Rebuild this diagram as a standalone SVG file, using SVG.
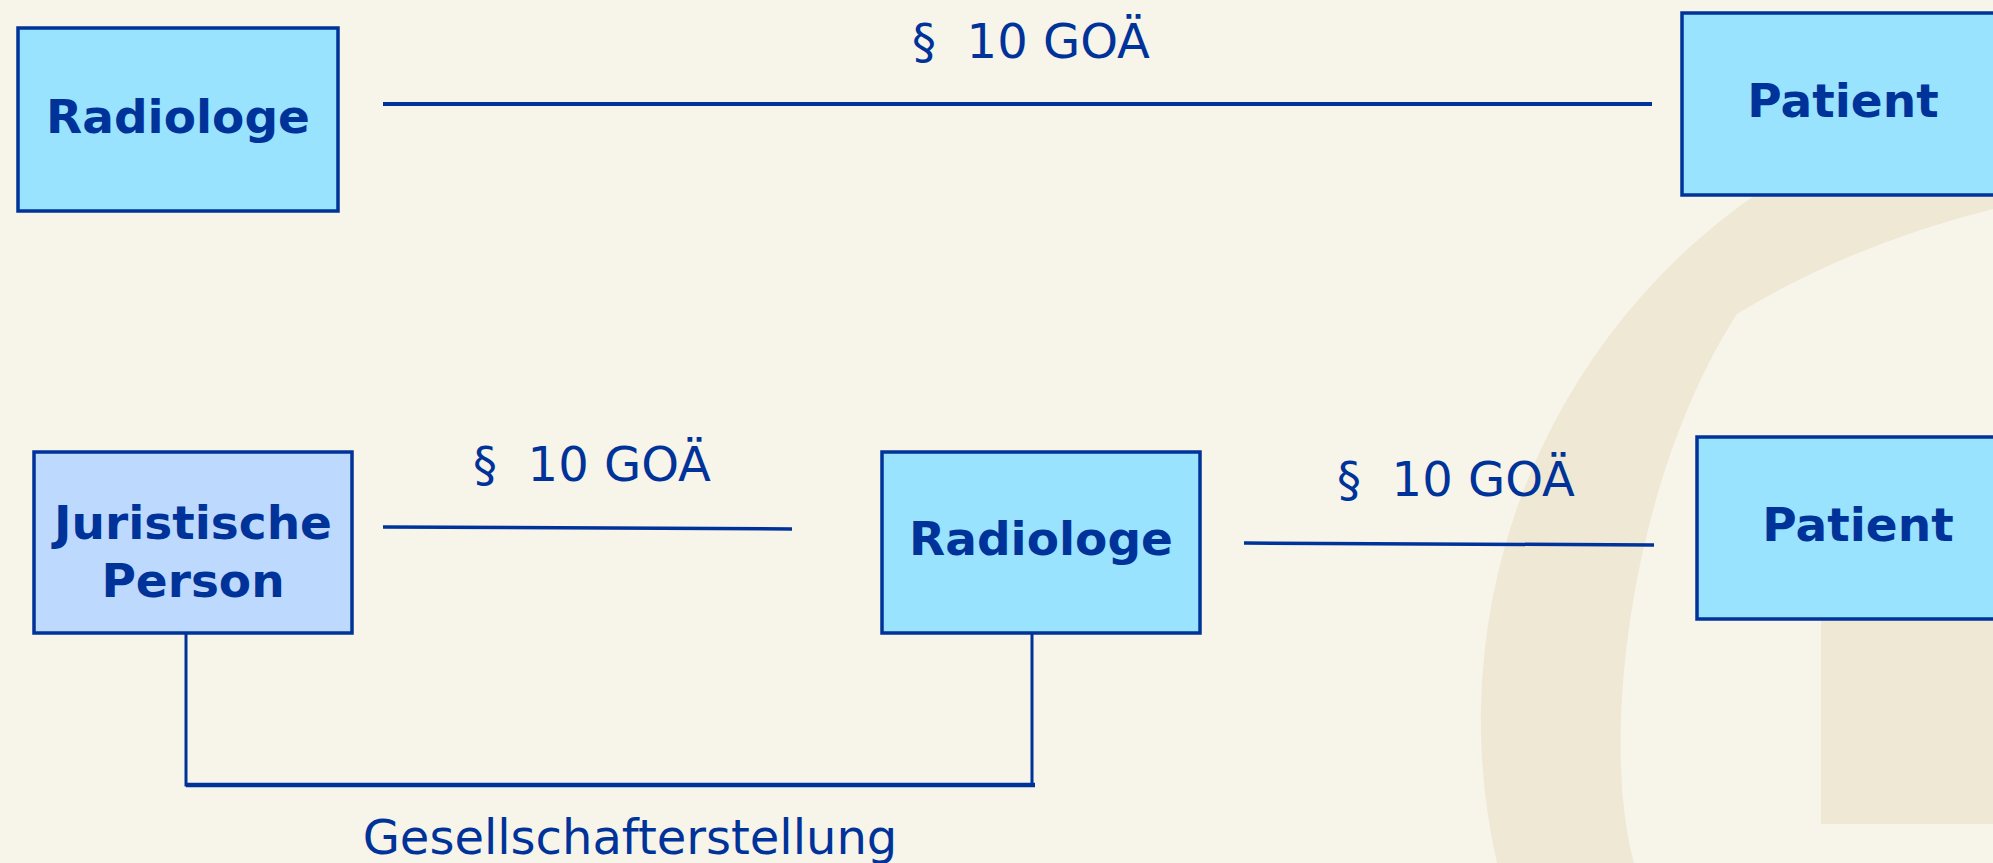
<svg xmlns="http://www.w3.org/2000/svg" width="1993" height="863" viewBox="0 0 1993 863">
<style>
.bg{fill:#F7F4EA}
.wm{fill:#EFE8D5}
.box{fill:#99E3FE;stroke:#003399;stroke-width:3.5}
.box2{fill:#BDD9FE;stroke:#003399;stroke-width:3.5}
.lbl{font-family:"DejaVu Sans",Verdana,sans-serif;font-weight:bold;font-size:47px;fill:#003399;text-anchor:middle}
.txt{font-family:"DejaVu Sans",Verdana,sans-serif;font-size:48px;fill:#003399;text-anchor:middle}
.ln{stroke:#003399;fill:none}
</style>
<rect class="bg" x="0" y="0" width="1993" height="863"/>
<g id="watermark">
<path class="wm" d="M 1993,100 L 1860,100 L 1830,150 A 640 640 0 0 0 1497,863 L 1634,863 C 1600,740 1630,480 1737,314 Q 1850,245 1993,209 Z"/>
<rect class="wm" x="1821" y="600" width="172" height="224"/>
</g>
<g id="connectors">
<line class="ln" x1="383" y1="104" x2="1652" y2="104" stroke-width="4"/>
<text class="txt" x="1031" y="58" xml:space="preserve">§  10 GOÄ</text>
<line class="ln" x1="383" y1="527" x2="792" y2="529" stroke-width="3.5"/>
<text class="txt" x="592" y="481" xml:space="preserve">§  10 GOÄ</text>
<line class="ln" x1="1244" y1="543" x2="1654" y2="545" stroke-width="3.5"/>
<text class="txt" x="1456" y="496" xml:space="preserve">§  10 GOÄ</text>
<polyline class="ln" points="186,634 186,785 1032,785 1032,634" stroke-width="3"/>
<line class="ln" x1="186" y1="785" x2="1035" y2="785" stroke-width="4.5"/>
<text class="txt" x="630" y="854" font-size="47">Gesellschafterstellung</text>
</g>
<g id="radiologe-top">
<rect class="box" x="18" y="28" width="320" height="183"/>
<text class="lbl" x="178" y="133">Radiologe</text>
</g>
<g id="patient-top">
<rect class="box" x="1682" y="13" width="330" height="182"/>
<text class="lbl" x="1843" y="117">Patient</text>
</g>
<g id="juristische-person">
<rect class="box2" x="34" y="452" width="318" height="181"/>
<text class="lbl" x="193" y="539">Juristische</text>
<text class="lbl" x="193" y="597">Person</text>
</g>
<g id="radiologe-bottom">
<rect class="box" x="882" y="452" width="318" height="181"/>
<text class="lbl" x="1041" y="555">Radiologe</text>
</g>
<g id="patient-bottom">
<rect class="box" x="1697" y="437" width="330" height="182"/>
<text class="lbl" x="1858" y="541">Patient</text>
</g>
</svg>
